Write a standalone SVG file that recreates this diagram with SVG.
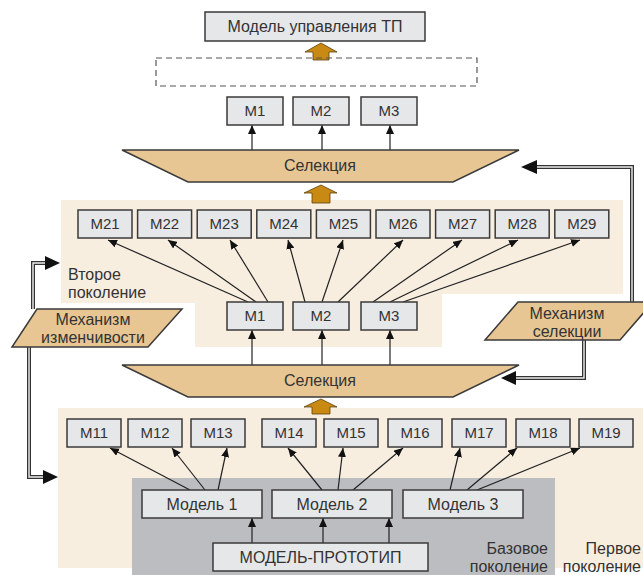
<svg xmlns="http://www.w3.org/2000/svg" width="643" height="575" viewBox="0 0 643 575">
<style>
text{font-family:"Liberation Sans",Arial,sans-serif;font-size:16px;fill:#333}
.m{font-size:15px}
.c{text-anchor:middle}
.e{text-anchor:end}
.box{fill:#e6e7e9;stroke:#3a3a3a;stroke-width:1.5}
.tan{fill:#e8c693;stroke:#3a3a3a;stroke-width:1.5}
.orange{fill:#c98a14;stroke:#5a3f0a;stroke-width:0.8}
.ar{stroke:#222;stroke-width:1.2;fill:none;marker-end:url(#ah)}
.dbl{fill:none;stroke:#333;stroke-width:4}
.dbl2{fill:none;stroke:#eee;stroke-width:1.4}
.big{fill:#111}
</style>
<defs>
<marker id="ah" markerUnits="userSpaceOnUse" markerWidth="10" markerHeight="8" refX="9" refY="4" orient="auto">
<path d="M0,0 L9,4 L0,8 z" fill="#111"/>
</marker>
</defs>
<rect width="643" height="575" fill="#fff"/>
<g id="panels">
<polygon points="61,200 623,200 623,294 442,294 442,347 195,347 195,303 61,303" fill="#f8eee0"/>
<rect x="58" y="408" width="590" height="160" fill="#f8eee0"/>
<rect x="132" y="478" width="423" height="97" fill="#bcbdc0"/>
<text x="68" y="280">Второе</text>
<text x="68" y="298">поколение</text>
<text class="e" x="548" y="554">Базовое</text>
<text class="e" x="548" y="572">поколение</text>
<text class="e" x="641" y="554">Первое</text>
<text class="e" x="641" y="572">поколение</text>
</g>
<g id="connectors">
<path class="dbl" d="M33,309 V263 H47"/><path class="dbl2" d="M33,309 V263 H47"/>
<polygon class="big" points="60,263 45,256 45,270"/>
<path class="dbl" d="M29,347 V477 H45"/><path class="dbl2" d="M29,347 V477 H45"/>
<polygon class="big" points="58,477 43,470 43,484"/>
<path class="dbl" d="M632,302 V167 H536"/><path class="dbl2" d="M632,302 V167 H536"/>
<polygon class="big" points="521,167 537,160 537,174"/>
<path class="dbl" d="M584,340 V378 H515"/><path class="dbl2" d="M584,340 V378 H515"/>
<polygon class="big" points="501,378 516,371 516,385"/>
<line class="ar" x1="252" y1="150" x2="252" y2="125"/>
<line class="ar" x1="322" y1="150" x2="322" y2="125"/>
<line class="ar" x1="390" y1="150" x2="390" y2="125"/>
<line class="ar" x1="252" y1="365" x2="252" y2="330"/>
<line class="ar" x1="322" y1="365" x2="322" y2="330"/>
<line class="ar" x1="390" y1="365" x2="390" y2="330"/>
<line class="ar" x1="248" y1="302" x2="108" y2="240"/>
<line class="ar" x1="256" y1="302" x2="168" y2="240"/>
<line class="ar" x1="268" y1="302" x2="230" y2="240"/>
<line class="ar" x1="305" y1="302" x2="288" y2="240"/>
<line class="ar" x1="322" y1="302" x2="343" y2="240"/>
<line class="ar" x1="338" y1="302" x2="403" y2="240"/>
<line class="ar" x1="373" y1="302" x2="462" y2="240"/>
<line class="ar" x1="390" y1="302" x2="518" y2="240"/>
<line class="ar" x1="403" y1="302" x2="580" y2="240"/>
<line class="ar" x1="190" y1="490" x2="110" y2="448"/>
<line class="ar" x1="205" y1="490" x2="172" y2="448"/>
<line class="ar" x1="218" y1="490" x2="227" y2="448"/>
<line class="ar" x1="322" y1="490" x2="288" y2="448"/>
<line class="ar" x1="338" y1="490" x2="343" y2="448"/>
<line class="ar" x1="353" y1="490" x2="403" y2="448"/>
<line class="ar" x1="450" y1="490" x2="460" y2="448"/>
<line class="ar" x1="467" y1="490" x2="517" y2="448"/>
<line class="ar" x1="477" y1="490" x2="580" y2="448"/>
<line class="ar" x1="252" y1="543" x2="252" y2="518"/>
<line class="ar" x1="323" y1="543" x2="323" y2="518"/>
<line class="ar" x1="389" y1="543" x2="389" y2="518"/>
<polygon class="orange" points="321,43 337,52 329,52 329,60 313,60 313,52 305,52"/>
<polygon class="orange" points="321,185 337,193 330,193 330,203 312,203 312,193 304,193"/>
<polygon class="orange" points="321,399 337,407 330,407 330,414 312,414 312,407 304,407"/>
</g>
<g id="top-model"><rect class="box" x="205" y="12" width="220" height="29"/><text class="c" x="315" y="32">Модель управления ТП</text></g>
<g id="dashed"><rect x="156" y="58" width="321" height="28" fill="none" stroke="#555" stroke-width="1.2" stroke-dasharray="6,4"/></g>
<g id="top-m1"><rect class="box" x="227" y="97" width="56" height="28"/><text class="c m" x="255" y="116">M1</text></g>
<g id="top-m2"><rect class="box" x="293" y="97" width="56" height="28"/><text class="c m" x="321" y="116">M2</text></g>
<g id="top-m3"><rect class="box" x="361" y="97" width="56" height="28"/><text class="c m" x="389" y="116">M3</text></g>
<g id="sel-top"><polygon class="tan" points="122,150 519,150 453,182 188,182"/><text class="c" x="320" y="171">Селекция</text></g>
<g id="sel-bottom"><polygon class="tan" points="122,365 519,365 453,397 188,397"/><text class="c" x="320" y="386">Селекция</text></g>
<g id="mech-var"><polygon class="tan" points="37,309 182,309 148,347 12,347"/><text class="c" x="93" y="325">Механизм</text><text class="c" x="93" y="343">изменчивости</text></g>
<g id="mech-sel"><polygon class="tan" points="518,302 653,302 620,340 485,340"/><text class="c" x="567" y="319">Механизм</text><text class="c" x="567" y="337">селекции</text></g>
<g id="m21"><rect class="box" x="78" y="210" width="54" height="28"/><text class="c m" x="105" y="229">M21</text></g>
<g id="m22"><rect class="box" x="137.6" y="210" width="54" height="28"/><text class="c m" x="164.6" y="229">M22</text></g>
<g id="m23"><rect class="box" x="197.2" y="210" width="54" height="28"/><text class="c m" x="224.2" y="229">M23</text></g>
<g id="m24"><rect class="box" x="256.8" y="210" width="54" height="28"/><text class="c m" x="283.8" y="229">M24</text></g>
<g id="m25"><rect class="box" x="316.4" y="210" width="54" height="28"/><text class="c m" x="343.4" y="229">M25</text></g>
<g id="m26"><rect class="box" x="376" y="210" width="54" height="28"/><text class="c m" x="403" y="229">M26</text></g>
<g id="m27"><rect class="box" x="435.6" y="210" width="54" height="28"/><text class="c m" x="462.6" y="229">M27</text></g>
<g id="m28"><rect class="box" x="495.2" y="210" width="54" height="28"/><text class="c m" x="522.2" y="229">M28</text></g>
<g id="m29"><rect class="box" x="554.8" y="210" width="54" height="28"/><text class="c m" x="581.8" y="229">M29</text></g>
<g id="mid-m1"><rect class="box" x="227" y="302" width="56" height="28"/><text class="c m" x="255" y="321">M1</text></g>
<g id="mid-m2"><rect class="box" x="293" y="302" width="56" height="28"/><text class="c m" x="321" y="321">M2</text></g>
<g id="mid-m3"><rect class="box" x="361" y="302" width="56" height="28"/><text class="c m" x="389" y="321">M3</text></g>
<g id="m11"><rect class="box" x="67" y="419" width="54" height="28"/><text class="c m" x="94" y="438">M11</text></g>
<g id="m12"><rect class="box" x="128" y="419" width="54" height="28"/><text class="c m" x="155" y="438">M12</text></g>
<g id="m13"><rect class="box" x="191" y="419" width="54" height="28"/><text class="c m" x="218" y="438">M13</text></g>
<g id="m14"><rect class="box" x="262" y="419" width="54" height="28"/><text class="c m" x="289" y="438">M14</text></g>
<g id="m15"><rect class="box" x="324" y="419" width="54" height="28"/><text class="c m" x="351" y="438">M15</text></g>
<g id="m16"><rect class="box" x="388" y="419" width="54" height="28"/><text class="c m" x="415" y="438">M16</text></g>
<g id="m17"><rect class="box" x="452" y="419" width="54" height="28"/><text class="c m" x="479" y="438">M17</text></g>
<g id="m18"><rect class="box" x="516" y="419" width="54" height="28"/><text class="c m" x="543" y="438">M18</text></g>
<g id="m19"><rect class="box" x="579" y="419" width="54" height="28"/><text class="c m" x="606" y="438">M19</text></g>
<g id="model1"><rect class="box" x="142" y="490" width="120" height="28"/><text class="c" x="202" y="510">Модель 1</text></g>
<g id="model2"><rect class="box" x="272" y="490" width="120" height="28"/><text class="c" x="332" y="510">Модель 2</text></g>
<g id="model3"><rect class="box" x="403" y="490" width="120" height="28"/><text class="c" x="463" y="510">Модель 3</text></g>
<g id="prototype"><rect class="box" x="213" y="543" width="215" height="28"/><text class="c" x="320.5" y="563">МОДЕЛЬ-ПРОТОТИП</text></g>
</svg>
